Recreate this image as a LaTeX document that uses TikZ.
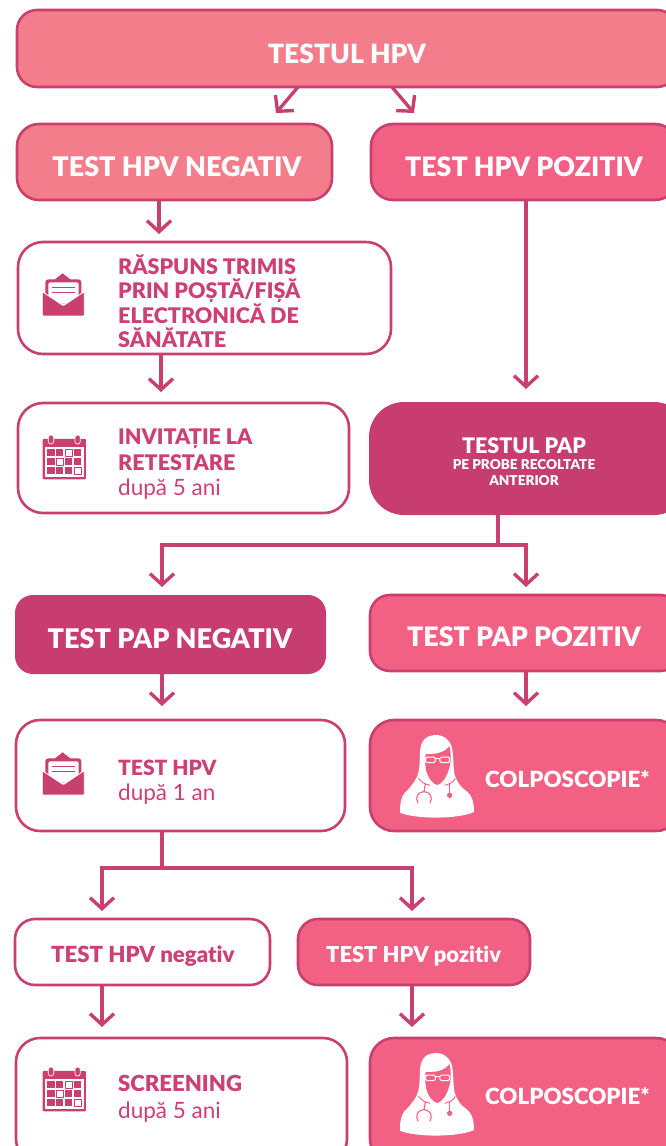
\documentclass[tikz,border=0pt]{standalone}
\usepackage{fontspec}
\setmainfont{Lato}[BoldFont={Lato Black},Ligatures=NoCommon]
\usetikzlibrary{arrows.meta}
\definecolor{rim}{HTML}{C9406F}
\definecolor{dark}{HTML}{C73D6F}
\definecolor{light}{HTML}{F47D8C}
\definecolor{mid}{HTML}{F26084}
\definecolor{ink}{HTML}{CC4075}
\tikzset{
 x=1pt,y=-1pt,
 shape box/.style={draw=rim,line width=2.6pt,anchor=north west,inner sep=0pt,outer sep=0pt},
 wbox/.style={shape box,fill=white},
 lbox/.style={shape box,fill=light},
 mbox/.style={shape box,fill=mid},
 dbox/.style={shape box,fill=dark},
 wlab/.style={text=white,anchor=base,inner sep=0pt},
 plab/.style={text=ink,anchor=base west,inner sep=0pt},
 rlab/.style={text=ink,anchor=base west,inner sep=0pt},
 conn/.style={draw=rim,line width=3.4pt},
 arr/.style={conn,-{Straight Barb[length=11pt,width=24pt,line width=3.4pt]}},
 envelope/.pic={
  \begin{scope}[x=.3333pt,y=-.3333pt]
   \fill[rim] (160,122)--(188,100)--(216,122)--cycle;
   \fill[rim,rounded corners=3pt] (136,118) rectangle (244,190);
   \fill[white,rounded corners=2pt] (145,127) rectangle (236,190);
   \draw[rim,line width=.7pt] (155,142)--(226,142) (155,156)--(226,156);
   \fill[rim,draw=white,line width=.8pt,rounded corners=1pt] (127,155)--(190,197)--(253,155)--(253,228)--(127,228)--cycle;
  \end{scope}},
 calendar/.pic={
  \begin{scope}[x=.3333pt,y=-.3333pt]
   \fill[rim,rounded corners=1pt] (128,597) rectangle (258,718);
   \fill[white] (136,620) rectangle (251,710);
   \foreach \cx in {153,233}{\fill[rim,draw=white,line width=.7pt,rounded corners=2.5pt] (\cx-8,585) rectangle (\cx+8,612);}
   \foreach \cx in {142,168,195,222}\foreach \cy in {627,654,681}{\fill[rim] (\cx,\cy) rectangle (\cx+22,\cy+22);}
   \foreach \cx/\cy in {195/627,168/654,222/681}{\fill[white,draw=rim,line width=.5pt] (\cx,\cy) rectangle (\cx+22,\cy+22);}
  \end{scope}},
 doctor/.pic={
  \begin{scope}[x=.3333pt,y=-.3333pt]
   \fill[white] (230,75) .. controls (195,75) and (182,95) .. (180,125)
     .. controls (178,165) and (182,195) .. (155,225)
     .. controls (148,240) and (132,245) .. (126,262)
     .. controls (120,280) and (120,295) .. (120,308)
     .. controls (165,328) and (295,328) .. (342,306)
     .. controls (342,280) and (338,255) .. (315,240)
     .. controls (300,230) and (292,215) .. (284,195)
     .. controls (278,165) and (282,135) .. (275,110)
     .. controls (268,88) and (250,75) .. (230,75) -- cycle;
   \fill[mid] (197,132) .. controls (225,134) and (255,128) .. (268,108)
     .. controls (274,130) and (274,160) .. (266,180)
     .. controls (258,205) and (245,222) .. (232,225)
     .. controls (218,222) and (205,205) .. (198,180)
     .. controls (195,160) and (195,145) .. (197,132) -- cycle;
   \draw[white,line width=1pt,rounded corners=1.5pt] (197,141) rectangle (226,158) (240,141) rectangle (269,158) (226,146)--(240,146);
   \draw[mid,line width=.9pt] (176,205) .. controls (185,218) and (195,222) .. (210,226);
   \draw[mid,line width=.9pt] (286,205) .. controls (280,218) and (268,222) .. (254,226);
   \draw[mid,line width=1.1pt] (174,280) .. controls (166,262) and (170,248) .. (192,245) .. controls (214,248) and (218,262) .. (210,280);
   \draw[mid,line width=1.1pt] (192,245)--(196,222);
   \draw[mid,line width=1.1pt] (269,218)--(269,250);
   \fill[mid] (269,256) circle (8);
  \end{scope}}
}
\begin{document}
\begin{tikzpicture}
\useasboundingbox (0,0) rectangle (665,1146);
% boxes
\node[lbox,minimum width=660pt,minimum height=77pt,rounded corners=20pt] (top) at (17,10) {};
\node[lbox,minimum width=315pt,minimum height=76pt,rounded corners=22pt] (hneg) at (17,124) {};
\node[mbox,minimum width=306pt,minimum height=76pt,rounded corners=22pt] (hpoz) at (371,124) {};
\node[wbox,minimum width=373pt,minimum height=112pt,rounded corners=25pt] (rasp) at (18,242) {};
\node[wbox,minimum width=331pt,minimum height=110pt,rounded corners=25pt] (inv) at (18,403) {};
\node[dbox,draw=none,minimum width=320pt,minimum height=113pt,rounded corners=35pt] (pap) at (369,402) {};
\node[dbox,draw=none,minimum width=311pt,minimum height=79pt,rounded corners=18pt] (pneg) at (15,595) {};
\node[mbox,minimum width=310pt,minimum height=76pt,rounded corners=20pt] (ppoz) at (370,595) {};
\node[wbox,minimum width=329pt,minimum height=111pt,rounded corners=24pt] (thpv) at (16,720) {};
\node[mbox,minimum width=310pt,minimum height=111pt,rounded corners=24pt] (col1) at (370,720) {};
\node[wbox,minimum width=255pt,minimum height=66pt,rounded corners=20pt] (sneg) at (15,919) {};
\node[mbox,minimum width=232pt,minimum height=66pt,rounded corners=20pt] (spoz) at (298,919) {};
\node[wbox,minimum width=331pt,minimum height=125pt,rounded corners=24pt] (scr) at (16,1038) {};
\node[mbox,minimum width=310pt,minimum height=125pt,rounded corners=24pt] (col2) at (370,1038) {};
% labels
\node[wlab,font=\bfseries\fontsize{26.5}{26.5}\selectfont] (l1) at (347,63) {TESTUL HPV};
\node[wlab,font=\bfseries\fontsize{27}{27}\selectfont] (l2) at (177,176) {TEST HPV NEGATIV};
\node[wlab,font=\bfseries\fontsize{26.7}{26.7}\selectfont] (l3) at (524,176) {TEST HPV POZITIV};
\node[plab,font=\bfseries\fontsize{21.5}{21.5}\selectfont] (l4a) at (118,274) {RĂSPUNS TRIMIS};
\node[plab,font=\bfseries\fontsize{21.5}{21.5}\selectfont] (l4b) at (118,298) {PRIN POȘTĂ/FIȘĂ};
\node[plab,font=\bfseries\fontsize{21.5}{21.5}\selectfont] (l4c) at (118,323) {ELECTRONICĂ DE};
\node[plab,font=\bfseries\fontsize{21.5}{21.5}\selectfont] (l4d) at (118,347) {SĂNĂTATE};
\node[plab,font=\bfseries\fontsize{21.5}{21.5}\selectfont] (l5a) at (118,444) {INVITAȚIE LA};
\node[plab,font=\bfseries\fontsize{21.5}{21.5}\selectfont] (l5b) at (118,470) {RETESTARE};
\node[rlab,font=\fontsize{22.5}{22.5}\selectfont] (l5c) at (118,495) {după 5 ani};
\node[wlab,font=\bfseries\fontsize{21.4}{21.4}\selectfont] (l6a) at (524,453) {TESTUL PAP};
\node[wlab,font=\bfseries\fontsize{13.6}{13.6}\selectfont] (l6b) at (524,469) {PE PROBE RECOLTATE};
\node[wlab,font=\bfseries\fontsize{13.6}{13.6}\selectfont] (l6c) at (524,485) {ANTERIOR};
\node[wlab,font=\bfseries\fontsize{27}{27}\selectfont] (l7) at (170,648) {TEST PAP NEGATIV};
\node[wlab,font=\bfseries\fontsize{26.8}{26.8}\selectfont] (l8) at (524,646) {TEST PAP POZITIV};
\node[plab,font=\bfseries\fontsize{21}{21}\selectfont] (l9a) at (118,775) {TEST HPV};
\node[rlab,font=\fontsize{22.5}{22.5}\selectfont] (l9b) at (118,800) {după 1 an};
\node[wlab,anchor=base west,font=\bfseries\fontsize{22.3}{22.3}\selectfont] (l10) at (485,787) {COLPOSCOPIE*};
\node[plab,font=\bfseries\fontsize{22.2}{22.2}\selectfont] (l11) at (51,962) {TEST HPV negativ};
\node[wlab,anchor=base west,font=\bfseries\fontsize{21.9}{21.9}\selectfont] (l12) at (326,962) {TEST HPV pozitiv};
\node[plab,font=\bfseries\fontsize{22.1}{22.1}\selectfont] (l13a) at (118,1091) {SCREENING};
\node[rlab,font=\fontsize{22.5}{22.5}\selectfont] (l13b) at (118,1118) {după 5 ani};
\node[wlab,anchor=base west,font=\bfseries\fontsize{22.3}{22.3}\selectfont] (l14) at (485,1104) {COLPOSCOPIE*};
% icons
\pic at (0,240) {envelope};
\pic at (0,240) {calendar};
\pic at (0,719) {envelope};
\pic at (0,872) {calendar};
\pic at (360,710) {doctor};
\pic at (360,1028) {doctor};
% connector guides
\coordinate (ta) at (298,0);
\coordinate (tb) at (392,0);
\coordinate (tipa) at (276,113);
\coordinate (tipb) at (414,113);
\coordinate (xa) at (159,0);
\coordinate (xb) at (526,0);
\coordinate (xc) at (161,0);
\coordinate (xd) at (498,0);
\coordinate (xe) at (162,0);
\coordinate (xf) at (102,0);
\coordinate (xg) at (412,0);
\coordinate (j1) at (498,545);
\coordinate (j1a) at (162,545);
\coordinate (j1b) at (526,545);
\coordinate (j2) at (162,868);
\coordinate (j2a) at (102,868);
\coordinate (j2b) at (412,868);
% connectors
\draw[arr] (top.south -| ta) -- (tipa);
\draw[arr] (top.south -| tb) -- (tipb);
\draw[arr,shorten >=8pt] (hneg.south -| xa) -- (rasp.north -| xa);
\draw[arr,shorten >=13pt] (hpoz.south -| xb) -- (pap.north -| xb);
\draw[arr,shorten >=11pt] (rasp.south -| xc) -- (inv.north -| xc);
\draw[conn] (pap.south -| xd) -- (j1);
\draw[conn,line cap=rect] (j1a) -- (j1b);
\draw[arr,shorten >=8pt] (j1a) -- (pneg.north -| j1a);
\draw[arr,shorten >=8pt] (j1b) -- (ppoz.north -| j1b);
\draw[arr,shorten >=14pt] (pneg.south -| xe) -- (thpv.north -| xe);
\draw[arr,shorten >=14pt] (ppoz.south -| xb) -- (col1.north -| xb);
\draw[conn] (thpv.south -| xe) -- (j2);
\draw[conn,line cap=rect] (j2a) -- (j2b);
\draw[arr,shorten >=8pt] (j2a) -- (sneg.north -| j2a);
\draw[arr,shorten >=8pt] (j2b) -- (spoz.north -| j2b);
\draw[arr,shorten >=11pt] (sneg.south -| xf) -- (scr.north -| xf);
\draw[arr,shorten >=11pt] (spoz.south -| xg) -- (col2.north -| xg);
\end{tikzpicture}
\end{document}
